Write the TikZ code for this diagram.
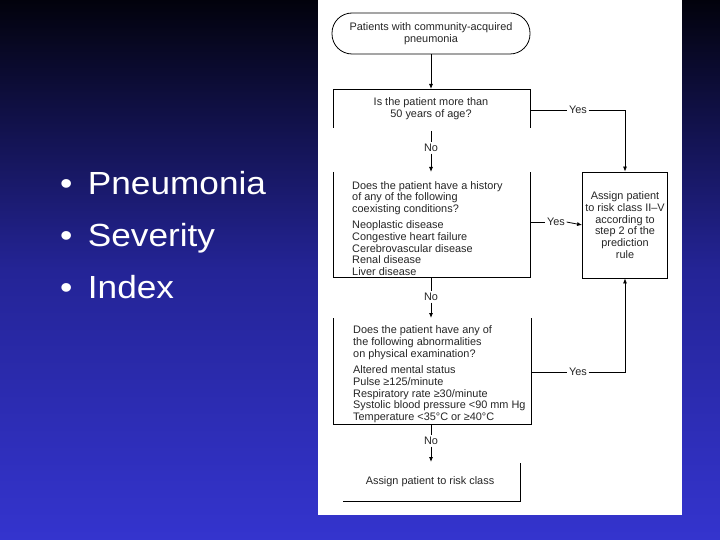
\documentclass[tikz,border=0pt]{standalone}
\usepackage{fontspec}
\setmainfont{Liberation Sans}
\usetikzlibrary{arrows.meta}
\definecolor{bgtop}{RGB}{2,2,12}
\definecolor{bgmid}{RGB}{36,36,150}
\definecolor{bgbot}{RGB}{52,52,206}
\begin{document}
\begin{tikzpicture}[x=1pt,y=-1pt,
  flow/.style={draw=black,line width=0.8pt},
  arr/.style={flow,-{Latex[length=5pt,width=4pt]}},
  ftext/.style={font=\fontsize{10.9}{11.7}\selectfont,text=black!85,inner sep=0pt},
  lbl/.style={ftext,fill=white,inner sep=1.5pt},
  bullet/.style={font=\fontsize{32}{32}\selectfont,text=white,anchor=base west,inner sep=0pt,xscale=1.1,transform shape}]
% background
\shade[top color=bgtop,bottom color=bgmid] (0,0) rectangle (720,270);
\shade[top color=bgmid,bottom color=bgbot] (0,270) rectangle (720,540);
\useasboundingbox (0,0) rectangle (720,540);
% bullets
\node[bullet] (b1) at (60,195) {\textbullet\hspace{14pt}Pneumonia};
\node[bullet] (b2) at (60,246) {\textbullet\hspace{14pt}Severity};
\node[bullet] (b3) at (60,298) {\textbullet\hspace{14pt}Index};
% panel
\fill[white] (318,0) rectangle (682,515);
% start
\node[flow,rounded corners=20pt,minimum width=198pt,minimum height=41pt,inner sep=0pt,align=center,ftext] (start) at (431,33.5) {Patients with community-acquired\\pneumonia};
% box2
\coordinate (b2tl) at (333,89); \coordinate (b2tr) at (530,89);
\draw[flow] (333,128) -- (b2tl) -- (b2tr) -- (530,128);
\node[ftext,align=center] (q1) at (431,109) {Is the patient more than\\50 years of age?};
\coordinate (b2top) at (431,89);
\draw[arr] (start.south) -- (b2top);
% box3
\draw[flow] (333,172) -- (333,277) -- (530,277) -- (530,172);
\node[ftext,align=left,anchor=north west] (q2) at (352,181) {Does the patient have a history\\of any of the following\\coexisting conditions?\\[4.5pt]Neoplastic disease\\Congestive heart failure\\Cerebrovascular disease\\Renal disease\\Liver disease};
\coordinate (b3top) at (431,172);
\node[lbl] (no1) at (431,148) {No};
\coordinate (b2bot) at (431,131);
\draw[flow] (b2bot) -- (no1.north);
\draw[arr] (no1.south) -- (b3top);
% assign box
\node[flow,minimum width=85pt,minimum height=106pt,inner sep=0pt,align=center,ftext] (assign) at (625,225) {Assign patient\\to risk class II–V\\according to\\step 2 of the\\prediction\\rule};
% yes1
\coordinate (y1s) at (530,110); \coordinate (y1c) at (625,110);
\node[lbl] (yes1) at (578,110) {Yes};
\draw[flow] (y1s) -- (yes1.west);
\draw[arr] (yes1.east) -- (y1c) -- (assign.north);
% yes2
\coordinate (y2s) at (530,222);
\node[lbl] (yes2) at (556,222) {Yes};
\draw[flow] (y2s) -- (yes2.west);
\draw[arr] (yes2.east) -- (assign.west);
% box4
\draw[flow] (333,318) -- (333,424) -- (531,424) -- (531,318);
\node[ftext,align=left,anchor=north west] (q3) at (353,325.5) {Does the patient have any of\\the following abnormalities\\on physical examination?\\[5pt]Altered mental status\\Pulse ≥125/minute\\Respiratory rate ≥30/minute\\Systolic blood pressure <90 mm Hg\\Temperature <35°C or ≥40°C};
\coordinate (b4top) at (431,318);
\node[lbl] (no2) at (431,297) {No};
\coordinate (b3bot) at (431,277);
\draw[flow] (b3bot) -- (no2.north);
\draw[arr] (no2.south) -- (b4top);
% yes3
\coordinate (y3s) at (531,372); \coordinate (y3c) at (625,372);
\node[lbl] (yes3) at (578,372) {Yes};
\draw[flow] (y3s) -- (yes3.west);
\draw[arr] (yes3.east) -- (y3c) -- (assign.south);
% box5
\draw[flow] (343,501) -- (520,501) -- (520,463);
\node[ftext] (a5) at (430,482) {Assign patient to risk class};
\coordinate (b5top) at (431,462);
\node[lbl] (no3) at (431,441) {No};
\coordinate (b4bot) at (431,424);
\draw[flow] (b4bot) -- (no3.north);
\draw[arr] (no3.south) -- (b5top);
\end{tikzpicture}
\end{document}
